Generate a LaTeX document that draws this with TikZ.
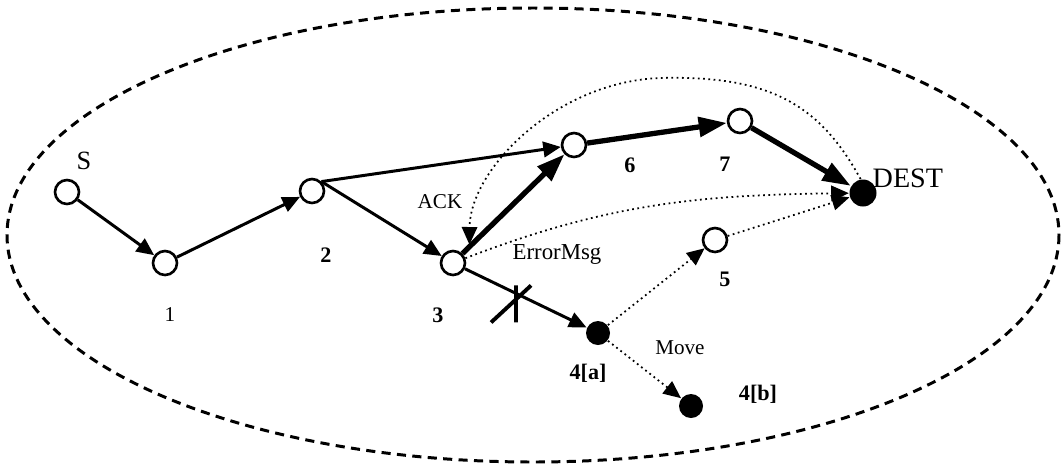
\documentclass[tikz,border=0pt]{standalone}
\usepackage{fontspec}
\setmainfont{Liberation Serif}
\usetikzlibrary{arrows.meta}

\begin{document}
\begin{tikzpicture}[
  x=0.1mm, y=-0.1mm,
  font=\fontsize{6}{7}\selectfont,
  >={Triangle[length=5pt,width=4.4pt]},
  hop/.style={circle, draw, line width=0.75pt, minimum size=2.4mm, inner sep=0pt},
  mob/.style={circle, fill, minimum size=2.4mm, inner sep=0pt},
  lnk/.style={->, line width=0.85pt},
  rt/.style={-{Triangle[length=8pt,width=5.5pt]}, line width=1.5pt},
  msg/.style={->, densely dotted, line width=0.5pt},
  num/.style={font=\fontsize{6.3}{7}\selectfont\bfseries, inner sep=0pt},
  txt/.style={inner sep=0pt}
]
\useasboundingbox (0,0) rectangle (1061,464);

% zone
\draw[dash pattern=on 2.6pt off 1.8pt, line width=0.85pt] (533,235) ellipse [x radius=526, y radius=227];

% hosts
\node[hop] (s)   at (67,192)  {};
\node[hop] (n1)  at (165,263) {};
\node[hop] (n2)  at (312,191) {};
\node[hop] (n3)  at (453,263) {};
\node[hop] (n6)  at (574,145) {};
\node[hop] (n7)  at (740,121) {};
\node[hop] (n5)  at (715,240) {};
\node[mob, minimum size=2.7mm] (dest) at (863,193) {};
\node[mob] (n4a) at (598,333) {};
\node[mob] (n4b) at (691,406) {};

% labels
\node[txt, font=\fontsize{7.5}{9}\selectfont] (ls) at (84,161) {S};
\node[txt] (l1)  at (170,315) {1};
\node[num] (l2)  at (326,255) {2};
\node[num] (l3)  at (438,315) {3};
\node[num] (l6)  at (630,165) {6};
\node[num] (l7)  at (725,164) {7};
\node[num] (l5)  at (725,279) {5};
\node[num] (l4a) at (588,373) {4[a]};
\node[num] (l4b) at (758,394) {4[b]};
\node[txt, anchor=west, font=\fontsize{8}{9}\selectfont] (ldest) at (872,178) {DEST};
\node[txt] (lack)  at (440,202) {ACK};
\node[txt, font=\fontsize{6.5}{7}\selectfont] (lerr) at (557,254) {ErrorMsg};
\node[txt] (lmove) at (680,348) {Move};

% route
\draw[lnk] (s) -- (n1);
\draw[lnk] (n1) -- (n2);
\draw[lnk] (n2.north east) -- (n3);
\draw[lnk] (n2.north east) -- (n6);
\draw[rt] (n3.north east) -- (n6);
\draw[rt] (n6) -- (n7);
\draw[rt] (n7) -- (dest);
\draw[lnk] (n3) -- coordinate[pos=0.42] (cut) (n4a);
\draw[line width=1.1pt] ([shift={(-25,29)}]cut) -- ([shift={(15,-8)}]cut)
  ([shift={(0,-8)}]cut) -- ([shift={(0,29)}]cut);

% messages
\draw[msg] (n4a) -- (n5);
\draw[msg] (n4a) -- (n4b);
\draw[msg] (n5) -- (dest);
\draw[msg] (n3) .. controls (606,204) and (698,195) .. (dest);
\draw[msg] (dest.100) .. controls (820,105) and (770,75) .. (660,78)
  .. controls (555,82) and (470,170) .. ([shift={(7,-9)}]n3.north east);
\end{tikzpicture}
\end{document}
